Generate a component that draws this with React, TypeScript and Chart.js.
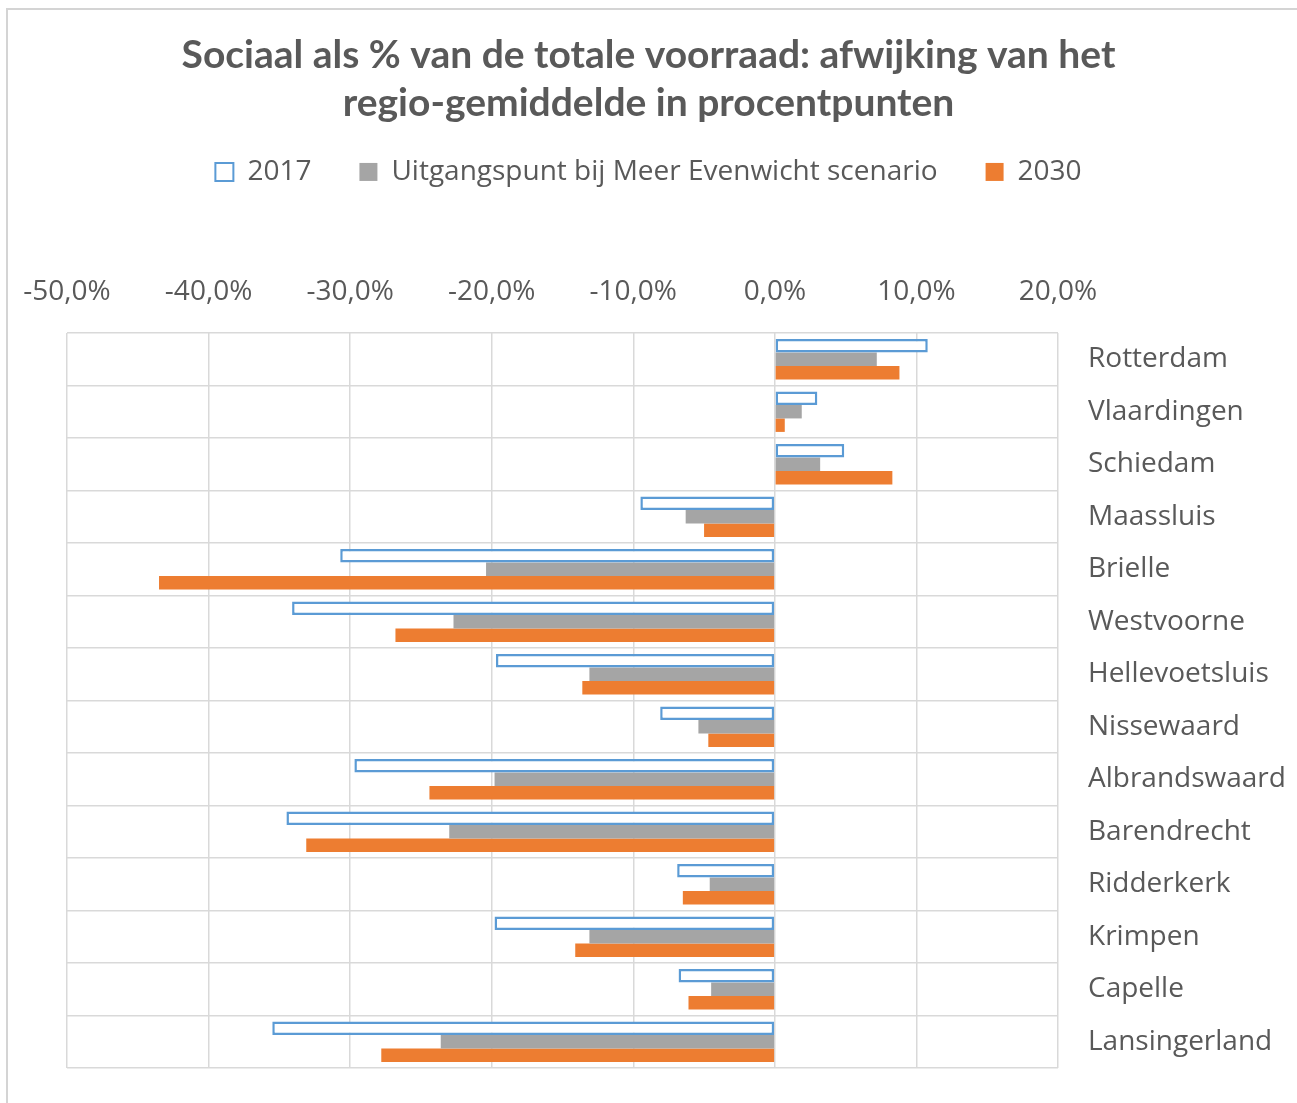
import React, { useEffect, useRef } from "react";
import { Chart, registerables } from "chart.js";

Chart.register(...registerables);

const categories = [
  "Rotterdam", "Vlaardingen", "Schiedam", "Maassluis", "Brielle", "Westvoorne",
  "Hellevoetsluis", "Nissewaard", "Albrandswaard", "Barendrecht", "Ridderkerk",
  "Krimpen", "Capelle", "Lansingerland",
];
const values2017 = [10.8, 3.0, 4.9, -9.5, -30.7, -34.1, -19.7, -8.1, -29.7, -34.5, -6.9, -19.8, -6.8, -35.5];
const valuesUitgangspunt = [7.2, 1.9, 3.2, -6.3, -20.4, -22.7, -13.1, -5.4, -19.8, -23.0, -4.6, -13.1, -4.5, -23.6];
const values2030 = [8.8, 0.7, 8.3, -5.0, -43.5, -26.8, -13.6, -4.7, -24.4, -33.1, -6.5, -14.1, -6.1, -27.8];
const seriesLabels = ["2017", "Uitgangspunt bij Meer Evenwicht scenario", "2030"];
const titleLines = [
  "Sociaal als % van de totale voorraad: afwijking van het",
  "regio-gemiddelde in procentpunten",
];
const xMin = -50;
const xMax = 20;
const xStep = 10;

const TEXT = "#595959";
const GRID = "#d9d9d9";

export default function App() {
  const ref = useRef<HTMLCanvasElement | null>(null);

  useEffect(() => {
    document.body.style.margin = "0";
    const canvas = ref.current;
    if (!canvas) return;
    const zeroPad = (s: any) => {
      s.paddingTop = 0;
      s.paddingBottom = 0;
      s.paddingLeft = 0;
      s.paddingRight = 0;
    };
    const chart = new Chart(canvas, {
      type: "bar",
      data: {
        labels: categories,
        datasets: [
          {
            label: seriesLabels[0],
            data: values2017,
            backgroundColor: "#ffffff",
            borderColor: "#5b9bd5",
            borderWidth: 2.5,
            borderSkipped: false,
          },
          {
            label: seriesLabels[1],
            data: valuesUitgangspunt,
            backgroundColor: "#a5a5a5",
            borderWidth: 0,
          },
          {
            label: seriesLabels[2],
            data: values2030,
            backgroundColor: "#ed7d31",
            borderWidth: 0,
          },
        ],
      },
      options: {
        indexAxis: "y",
        animation: false,
        responsive: false,
        maintainAspectRatio: false,
        layout: { padding: { left: 0, right: 0, top: 31, bottom: 35 } },
        datasets: { bar: { categoryPercentage: 0.77, barPercentage: 1.0 } },
        plugins: {
          tooltip: { enabled: false },
          title: {
            display: true,
            text: titleLines,
            color: TEXT,
            font: { family: "Lato", size: 39, weight: "bold", lineHeight: 1.23 },
            padding: { top: 0, bottom: -17 },
          },
          legend: {
            display: true,
            position: "top",
            labels: {
              color: TEXT,
              font: { family: "Open Sans", size: 28 },
              boxWidth: 18,
              boxHeight: 18,
              padding: 48,
              generateLabels: (c: any) =>
                c.data.datasets.map((ds: any, i: number) => ({
                  text: ds.label,
                  fillStyle: i === 0 ? "#ffffff" : ds.backgroundColor,
                  strokeStyle: i === 0 ? "#5b9bd5" : ds.backgroundColor,
                  lineWidth: i === 0 ? 2 : 0,
                  fontColor: TEXT,
                  hidden: false,
                  datasetIndex: i,
                })),
            },
          },
        },
        scales: {
          x: {
            position: "top",
            min: xMin,
            max: xMax,
            ticks: {
              stepSize: xStep,
              color: TEXT,
              padding: 24,
              font: { family: "Open Sans", size: 28 },
              callback: (v: any) => Number(v).toFixed(1).replace(".", ",") + "%",
            },
            grid: { color: GRID, lineWidth: 1.5, drawTicks: false },
            border: { display: false },
            afterFit: (s: any) => {
              s.height = 137;
              zeroPad(s);
            },
          },
          y: {
            position: "right",
            ticks: {
              color: TEXT,
              padding: 30,
              font: { family: "Open Sans", size: 28 },
            },
            grid: { color: GRID, lineWidth: 1.5, drawTicks: false, offset: true },
            border: { display: false },
            afterFit: (s: any) => {
              s.width = 239;
              zeroPad(s);
            },
          },
          yLeftSpace: {
            type: "category",
            position: "left",
            labels: categories,
            grid: { display: false, drawTicks: false },
            ticks: { display: false },
            border: { display: false },
            afterFit: (s: any) => {
              s.width = 67;
              zeroPad(s);
            },
          },
        },
      },
    });
    return () => chart.destroy();
  }, []);

  return (
    <div style={{ position: "relative", width: 1297, height: 1103, background: "#fff" }}>
      <div
        style={{
          position: "absolute",
          left: 6,
          top: 8,
          width: 1300,
          height: 1110,
          borderLeft: "2px solid #d4d4d4",
          borderTop: "2px solid #d4d4d4",
        }}
      />
      <canvas ref={ref} width={1297} height={1103} style={{ position: "absolute", left: 0, top: 0 }} />
    </div>
  );
}
